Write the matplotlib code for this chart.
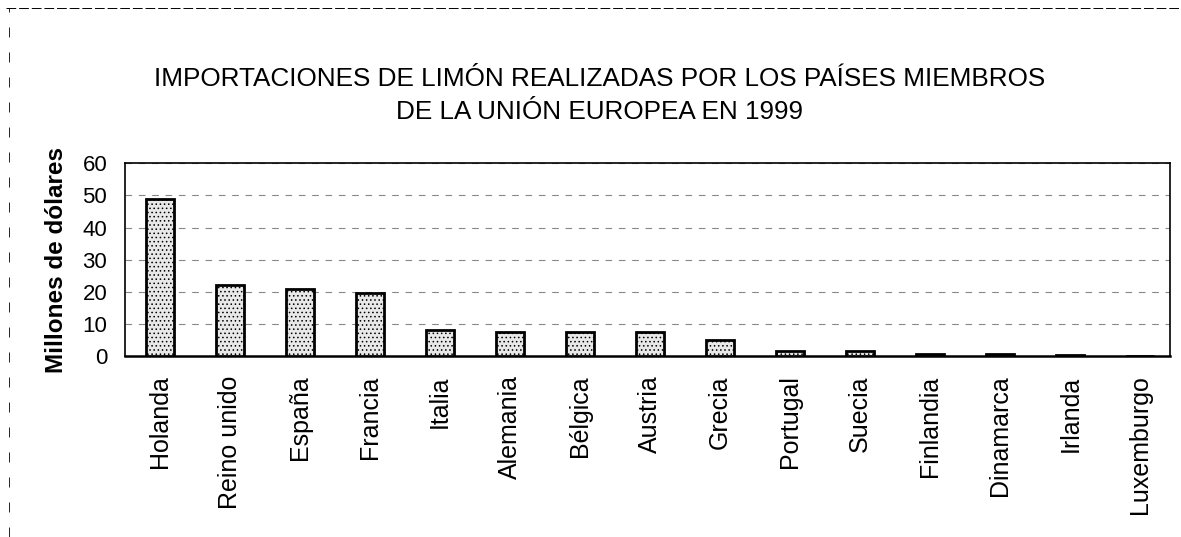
import numpy as np
import matplotlib
matplotlib.use("Agg")
import matplotlib.pyplot as plt

paises = ["Holanda", "Reino unido", "España", "Francia", "Italia", "Alemania",
          "Bélgica", "Austria", "Grecia", "Portugal", "Suecia", "Finlandia",
          "Dinamarca", "Irlanda", "Luxemburgo"]
importaciones = [49, 22, 21, 19.5, 8, 7.5, 7.5, 7.5, 5, 1.5, 1.5, 0.7, 0.5, 0.2, 0.1]
y_ticks = [0, 10, 20, 30, 40, 50, 60]

plt.rcParams["font.family"] = ["Liberation Sans", "DejaVu Sans"]
plt.rcParams["hatch.color"] = "#555555"
plt.rcParams["hatch.linewidth"] = 0.6

fig = plt.figure(figsize=(11.81, 5.37), dpi=100)
ax = fig.add_axes([0.106, 0.337, 0.885, 0.359])

x = np.arange(len(paises))
ax.bar(x, importaciones, width=0.4, color="#e8e8e8", edgecolor="black",
       linewidth=2, hatch="....", zorder=3)

ax.set_ylim(0, 60)
ax.set_xlim(-0.5, len(paises) - 0.57)
ax.set_yticks(y_ticks)
ax.tick_params(axis="y", labelsize=16, length=0, pad=13)
ax.tick_params(axis="x", length=0, pad=14)
ax.set_xticks(x)
ax.set_xticklabels(paises, rotation=90, fontsize=18)
ax.grid(axis="y", linestyle=(0, (6, 6)), color="#888888", linewidth=0.8, zorder=0)
for side in ax.spines.values():
    side.set_linewidth(1.2)
ax.spines["bottom"].set_linewidth(1.8)

ax.set_ylabel("Millones de dólares", fontsize=17.5, fontweight="bold", labelpad=10)

fig.text(0.508, 0.852, "IMPORTACIONES DE LIMÓN REALIZADAS POR LOS PAÍSES MIEMBROS",
         ha="center", va="center", fontsize=18.8)
fig.text(0.508, 0.792, "DE LA UNIÓN EUROPEA EN 1999",
         ha="center", va="center", fontsize=18.8)

# dashed page frame from the scan
fig.add_artist(plt.Line2D([0.005, 1.0], [0.985, 0.985], transform=fig.transFigure,
                          color="black", linewidth=0.7, linestyle=(0, (10, 3))))
fig.add_artist(plt.Line2D([0.008, 0.008], [0.0, 0.985], transform=fig.transFigure,
                          color="black", linewidth=0.6, linestyle=(0, (12, 18))))

fig.savefig("out.png", dpi=100)
